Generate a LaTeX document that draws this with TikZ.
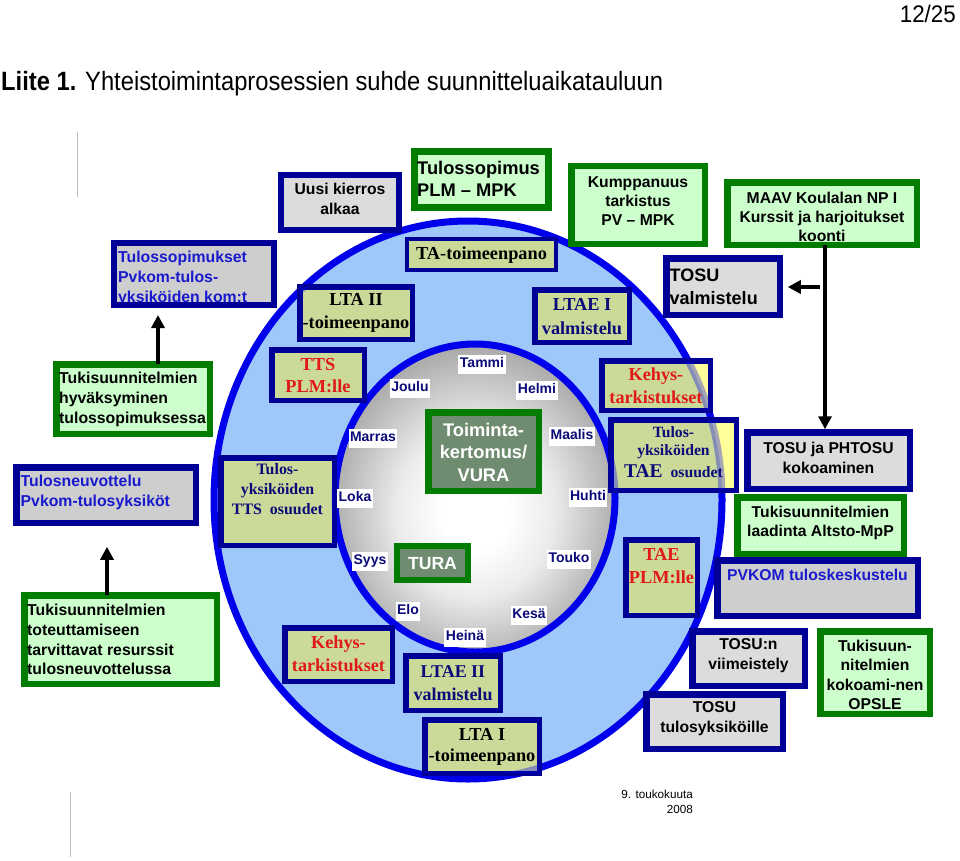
\documentclass[tikz,border=0pt]{standalone}
\usepackage{fontspec}
\setmainfont{Liberation Sans}
\newfontfamily\serf{Liberation Serif}
\usetikzlibrary{arrows.meta,calc}
\newcommand{\fsz}[2]{\fontsize{#1pt}{#2pt}\selectfont}
\definecolor{navyB}{RGB}{0,0,150}
\definecolor{greenB}{RGB}{0,125,0}
\definecolor{grayF}{RGB}{220,220,220}
\definecolor{grayF2}{RGB}{206,206,206}
\definecolor{lgreenF}{RGB}{204,255,204}
\definecolor{khakiF}{RGB}{204,218,153}
\definecolor{yellowF}{RGB}{255,255,153}
\definecolor{ctrF}{RGB}{112,140,112}
\definecolor{blueF}{RGB}{158,200,250}
\definecolor{ellB}{RGB}{0,0,235}
\definecolor{blueT}{RGB}{25,25,205}
\definecolor{navyT}{RGB}{10,10,120}
\definecolor{redT}{RGB}{225,25,25}
\definecolor{shadeG}{RGB}{165,165,165}
\definecolor{shadeM}{RGB}{235,235,235}
\pgfdeclareradialshading{innerrad}{\pgfpoint{0bp}{-3bp}}{color(0bp)=(white); color(6bp)=(white); color(14bp)=(shadeM); color(27bp)=(shadeG); color(50bp)=(shadeG)}
\begin{document}
\begin{tikzpicture}[x=1pt,y=-1pt,
  wh/.style 2 args={minimum width=#1pt, minimum height=#2pt},
  base/.style={inner sep=0pt, outer sep=0pt, align=center},
  nbox/.style={base, draw=navyB, line width=6.5pt, fill=grayF},
  gbox/.style={base, draw=greenB, line width=6.5pt, fill=lgreenF},
  kbox/.style={base, draw=navyB, line width=5.5pt, fill=khakiF},
  cbox/.style={base, draw=greenB, line width=6.5pt, fill=ctrF},
  stxt/.style={inner sep=0pt, align=center, font=\bfseries\fsz{15.7}{20}},
  rtxt/.style={inner sep=0pt, align=center, font=\serf\bfseries\fsz{18.3}{22.7}},
  month/.style={fill=white, text=navyT, font=\bfseries\fsz{14}{14}, inner xsep=1.5pt, inner ysep=2pt, text height=11pt, text depth=4pt},
  arr/.style={line width=4.5pt, -{Triangle[length=13pt,width=13pt]}},
  glines/.style={draw=gray!50, line width=1pt}
]
\useasboundingbox (0,0) rectangle (960,861);

% header
\node[anchor=base west, inner sep=0pt] (title) at (1,91) {\resizebox{662pt}{\height}{\fsz{26.5}{26.5}\textbf{Liite 1.} Yhteistoimintaprosessien suhde suunnitteluaikatauluun}};
\node[anchor=north east, inner sep=0pt] (page) at (956,5) {\resizebox{56pt}{\height}{\fsz{24}{24}12/25}};

% thin gray rules
\draw[glines] (77,132) -- (77,197);
\draw[glines] (70,792) -- (70,857);

% ellipses
\fill[blueF] (468,500) ellipse [x radius=254, y radius=279];
\draw[ellB, line width=7pt] (468,500) ellipse [x radius=254, y radius=279];
\shade[shading=innerrad] (475,498) ellipse [x radius=140, y radius=154];
\draw[ellB, line width=7pt] (475,498) ellipse [x radius=140, y radius=154];

% outer boxes
\node[nbox, wh={118}{55}] (uusi) at (340,202.5) {};
\node[nbox, fill=grayF2, wh={160}{62}] (tsop) at (194,274) {};
\node[gbox, line width=7pt, wh={134}{56}] (tplm) at (481.5,179.5) {};
\node[gbox, wh={133.5}{77.5}] (kump) at (638,205) {};
\node[gbox, wh={189.5}{62.5}] (maav) at (822,213.5) {};
\node[nbox, wh={113.5}{56.5}] (tosuv) at (723,286.5) {};
\node[gbox, wh={153.5}{69.5}] (thyv) at (133,399) {};
\node[nbox, fill=grayF2, wh={179.5}{55.5}] (tneuv) at (106,495) {};
\node[gbox, wh={192.5}{88.5}] (ttot) at (120.5,639.5) {};
\node[nbox, wh={162.5}{56.5}] (tosuph) at (828.5,460.5) {};
\node[gbox, wh={166.5}{56.5}] (tlaad) at (820.5,525.5) {};
\node[nbox, fill=grayF2, wh={200.5}{55.5}] (pvkom) at (817.5,588) {};
\node[nbox, wh={112.5}{54.5}] (tosuvi) at (748.5,658.5) {};
\node[nbox, wh={136.5}{54.5}] (tosut) at (714.5,721.5) {};
\node[gbox, wh={109.5}{82.5}] (opsle) at (875,672.5) {};

% khaki boxes in the ring
\node[kbox, wh={112.5}{52.5}] (lta2) at (356,313) {};
\node[kbox, line width=4pt, wh={149}{31}] (ta) at (481.5,254.5) {};
\node[kbox, wh={94.5}{52.5}] (ltae1) at (582,316) {};
\node[kbox, wh={92.5}{50.5}] (tts) at (318,375) {};
\node[kbox, wh={113.5}{87.5}] (ttso) at (277.5,501.5) {};
\node[kbox, fill=yellowF, wh={108.5}{49.5}] (kehys1) at (656,385.5) {};
\node[kbox, fill=yellowF, wh={125.5}{70.5}] (ttae) at (673.5,455) {};
\node[kbox, wh={71.5}{75.5}] (taeplm) at (661.5,577.5) {};
\node[kbox, wh={107.5}{53.5}] (kehys2) at (338.5,654.5) {};
\node[kbox, wh={94.5}{54.5}] (ltae2) at (453,683) {};
\node[kbox, wh={114.5}{53.5}] (lta1) at (482,746.5) {};
\begin{scope}
  \clip (468,500) ellipse [x radius=254, y radius=279];
  \fill[khakiF] (kehys1.south west) rectangle (kehys1.north east);
  \fill[khakiF] (ttae.south west) rectangle (ttae.north east);
\end{scope}
\draw[navyB, line width=5.5pt] (kehys1.south west) rectangle (kehys1.north east);
\draw[navyB, line width=5.5pt] (ttae.south west) rectangle (ttae.north east);
\begin{scope}
  \clip (lta2.south west) rectangle (lta2.north east)
        (ta.south west) rectangle (ta.north east)
        (ltae1.south west) rectangle (ltae1.north east)
        (tts.south west) rectangle (tts.north east)
        (ttso.south west) rectangle (ttso.north east)
        (kehys1.south west) rectangle (kehys1.north east)
        (ttae.south west) rectangle (ttae.north east)
        (taeplm.south west) rectangle (taeplm.north east)
        (kehys2.south west) rectangle (kehys2.north east)
        (ltae2.south west) rectangle (ltae2.north east)
        (lta1.south west) rectangle (lta1.north east);
  \draw[ellB, opacity=0.35, line width=7pt] (468,500) ellipse [x radius=254, y radius=279];
  \draw[ellB, opacity=0.35, line width=7pt] (475,498) ellipse [x radius=140, y radius=154];
\end{scope}

% centre boxes
\node[cbox, wh={110.5}{78.5}] (toim) at (483.5,451.5) {};
\node[cbox, line width=6pt, wh={71}{34}] (tura) at (432.5,563) {};

% texts of outer boxes
\node[stxt] (uusiT) at (340,199) {Uusi kierros\\alkaa};
\node[stxt, text=blueT, anchor=west, align=left, font=\bfseries\fsz{15.8}{20}] (tsopT) at (118,278) {Tulossopimukset\\Pvkom-tulos-\\yksiköiden kom:t};
\draw[navyB, line width=6.5pt] (tsop.south west) -- (tsop.south east);
\node[stxt, anchor=west, align=left, font=\bfseries\fsz{18.3}{22}] (tplmT) at (417,179) {Tulossopimus\\PLM – MPK};
\node[stxt, font=\bfseries\fsz{15.7}{19.3}] (kumpT) at (638,201) {Kumppanuus\\tarkistus\\PV – MPK};
\node[stxt, font=\bfseries\fsz{15.7}{19.3}] (maavT) at (822,217) {MAAV Koulalan NP I\\Kurssit ja harjoitukset\\koonti};
\node[stxt, anchor=west, align=left, font=\bfseries\fsz{18}{22.7}] (tosuvT) at (669.5,287) {TOSU\\valmistelu};
\node[stxt, anchor=west, align=left, font=\bfseries\fsz{15.8}{20}] (thyvT) at (59,399.5) {Tukisuunnitelmien\\hyväksyminen\\tulossopimuksessa};
\node[stxt, text=blueT, anchor=west, align=left, font=\bfseries\fsz{15.8}{20}] (tneuvT) at (20.5,492.5) {Tulosneuvottelu\\Pvkom-tulosyksiköt};
\node[stxt, anchor=west, align=left, font=\bfseries\fsz{15.8}{19.7}] (ttotT) at (27,639.5) {Tukisuunnitelmien\\toteuttamiseen\\tarvittavat resurssit\\tulosneuvottelussa};
\node[stxt] (tosuphT) at (828.5,457.5) {TOSU ja PHTOSU\\kokoaminen};
\node[stxt, font=\bfseries\fsz{15.7}{19.5}] (tlaadT) at (820.5,523) {Tukisuunnitelmien\\laadinta Altsto-MpP};
\node[stxt, text=blueT] (pvkomT) at (817.5,575) {PVKOM tuloskeskustelu};
\node[stxt] (tosuviT) at (748.5,655.5) {TOSU:n\\viimeistely};
\node[stxt] (tosutT) at (714.5,719) {TOSU\\tulosyksiköille};
\node[stxt, font=\bfseries\fsz{15.7}{19.5}] (opsleT) at (875,675) {Tukisuun-\\nitelmien\\kokoami-nen\\OPSLE};

% texts of ring boxes
\node[rtxt] (lta2T) at (356,313) {LTA II\\-toimeenpano};
\node[rtxt] (taT) at (481.5,255) {TA-toimeenpano};
\node[rtxt, text=navyT, font=\serf\bfseries\fsz{18.3}{24}] (ltae1T) at (582,316.5) {LTAE I\\valmistelu};
\node[rtxt, text=redT, font=\serf\bfseries\fsz{18.3}{22.3}] (ttsT) at (318,375.5) {TTS\\PLM:lle};
\node[rtxt, text=navyT, font=\serf\bfseries\fsz{15.9}{20}] (ttsoT) at (277.5,489.5) {Tulos-\\yksiköiden\\TTS\ \ osuudet};
\node[rtxt, text=redT, font=\serf\bfseries\fsz{18.2}{23}] (kehys1T) at (656,385.5) {Kehys-\\tarkistukset};
\node[rtxt, text=navyT, font=\serf\bfseries\fsz{15.7}{18.5}] (ttaeT) at (673.5,452) {Tulos-\\yksiköiden\\[3pt]{\fsz{19.5}{19.5}TAE}\ \ osuudet};
\node[rtxt, text=redT, font=\serf\bfseries\fsz{18.3}{23}] (taeplmT) at (661.5,566) {TAE\\PLM:lle};
\node[rtxt, text=redT, font=\serf\bfseries\fsz{18.2}{23.3}] (kehys2T) at (338.5,654) {Kehys-\\tarkistukset};
\node[rtxt, text=navyT, font=\serf\bfseries\fsz{18}{23.3}] (ltae2T) at (453,683) {LTAE II\\valmistelu};
\node[rtxt, font=\serf\bfseries\fsz{18.3}{21.7}] (lta1T) at (482,747) {LTA I\\-toimeenpano};

% centre texts
\node[stxt, text=white, font=\bfseries\fsz{18.3}{22.5}] (toimT) at (483.5,452) {Toiminta-\\kertomus/\\VURA};
\node[stxt, text=white, font=\bfseries\fsz{17.6}{17.6}] (turaT) at (432.5,564) {TURA};

% months
\node[month] (m01) at (482,364) {Tammi};
\node[month] (m02) at (537,390) {Helmi};
\node[month] (m03) at (572,436) {Maalis};
\node[month] (m04) at (588,497) {Huhti};
\node[month] (m05) at (569,559) {Touko};
\node[month] (m06) at (529,615) {Kesä};
\node[month] (m07) at (465,637) {Heinä};
\node[month] (m08) at (408,611) {Elo};
\node[month] (m09) at (370,561) {Syys};
\node[month] (m10) at (355,498) {Loka};
\node[month] (m11) at (373,438) {Marras};
\node[month] (m12) at (410,388) {Joulu};

% arrows
\coordinate (c1) at (158,0);
\coordinate (c2) at (107,0);
\coordinate (c3) at (825,0);
\coordinate (a4s) at (820,287);
\draw[arr, shorten >=10pt] (thyv.north -| c1) -- (tsop.south -| c1);
\draw[arr, shorten >=24pt] (ttot.north -| c2) -- (tneuv.south -| c2);
\draw[arr, shorten >=3pt] (maav.south -| c3) -- (tosuph.north -| c3);
\draw[arr, shorten >=8pt] (a4s) -- (tosuv.east |- a4s);

% footer
\node[anchor=north east, align=right, inner sep=0pt, font=\fsz{11.7}{15}] (date) at (693,790) {9. toukokuuta\\2008};
\end{tikzpicture}
\end{document}
